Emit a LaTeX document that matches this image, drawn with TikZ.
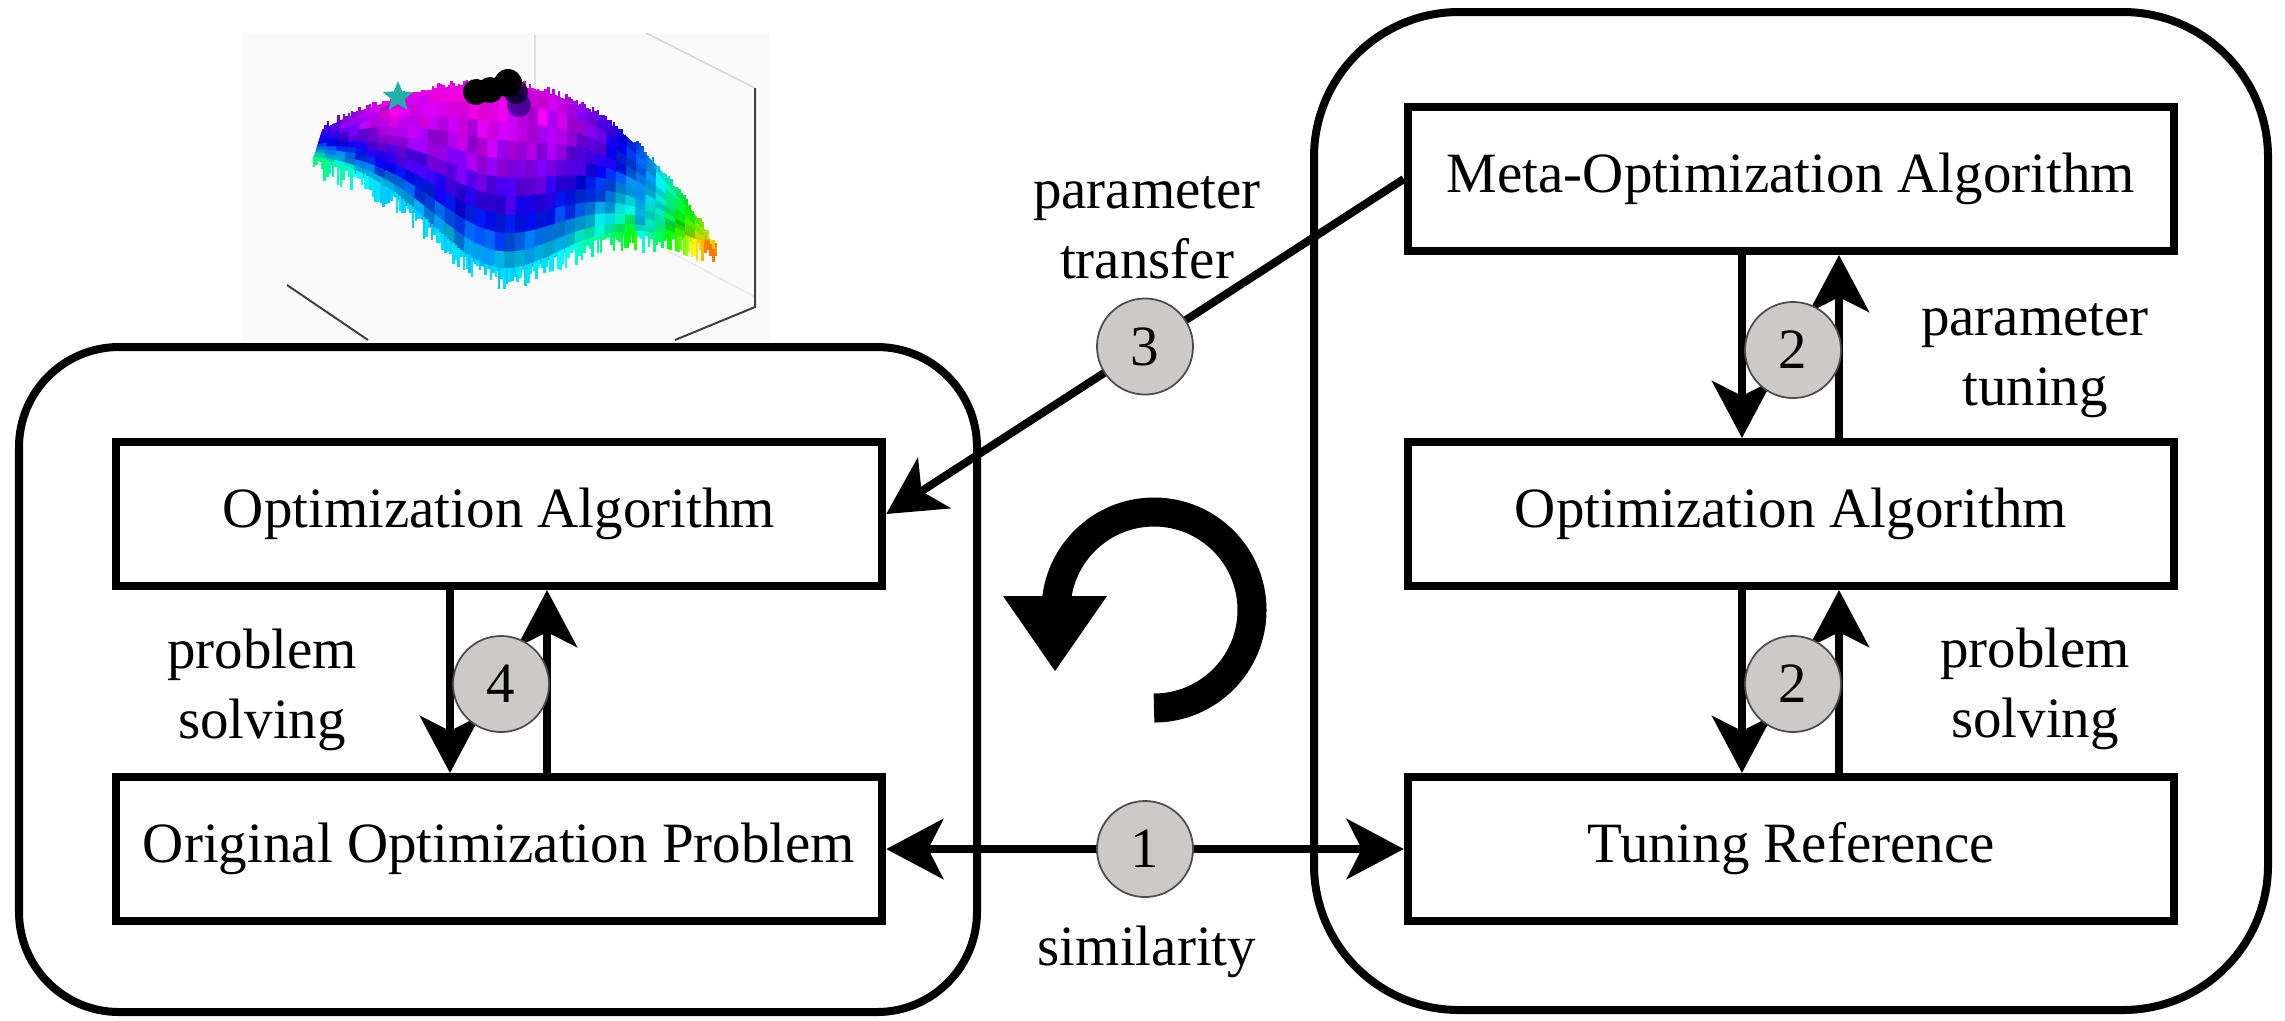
\documentclass[tikz,border=0pt]{standalone}
\usepackage{fontspec}
\setmainfont{Liberation Serif}
\usetikzlibrary{arrows.meta}
\definecolor{numgray}{RGB}{206,201,201}
\definecolor{plotbg}{RGB}{250,250,250}
\definecolor{stargreen}{RGB}{32,178,170}
\tikzset{
  box/.style={draw, line width=0.08cm, minimum width=7.66cm, minimum height=1.44cm, inner sep=0pt},
  numcirc/.style={circle, draw=black!70, line width=0.5pt, fill=numgray, minimum size=0.96cm, inner sep=0pt},
  conn/.style={line width=0.08cm, -{Stealth[length=0.57cm, width=0.6cm, inset=0.15cm]}},
  lbl/.style={align=center},
  declare function={
    xb(\pu)=323+393*\pu;
    yb(\pu)=130-200*\pu+200*\pu*\pu+120*\pu*\pu*\pu*\pu;
    xf(\pu)=314+402*\pu;
    yf(\pu)=158+72*exp(-((\pu-0.45)/0.22)*((\pu-0.45)/0.22))+88*\pu;
    sx(\pu,\pv)=xb(\pu)*(1-\pv)+xf(\pu)*\pv;
    sy(\pu,\pv)=yb(\pu)*(1-\pv)+yf(\pu)*\pv;
    shue(\pu,\pv)=300-300*max(0,0.15-\pu)-110*\pv*\pv*(1-0.6*(\pu>0.8))-(\pu>0.4)*255*((\pu-0.4)/0.6)*((\pu-0.4)/0.6)*((\pu-0.4)/0.6);
  }
}
\begin{document}
\begin{tikzpicture}[x=0.01cm, y=-0.01cm, font=\fontsize{16.2}{19.9}\selectfont]
\useasboundingbox (0,0) rectangle (2285,1020);
\pgfmathsetseed{7}

% landscape picture
\fill[plotbg] (242,33) rectangle (770,340);
\draw[black!12, line width=0.5pt] (535,35) -- (535,227);
\draw[black!15, line width=0.5pt] (646,33) -- (755,88);
\draw[black!8, line width=0.5pt] (616,223) -- (755,297);
\foreach \i in {0,...,39}{
  \foreach \j in {0,...,9}{
    \pgfmathsetmacro\ua{\i/40}
    \pgfmathsetmacro\ub{(\i+1)/40}
    \pgfmathsetmacro\va{\j/10}
    \pgfmathsetmacro\vb{(\j+1)/10}
    \pgfmathtruncatemacro\hh{max(28,min(359,shue((\ua+\ub)/2,(\va+\vb)/2)+16*rnd-8))}
    \pgfmathsetmacro\bb{0.78+0.22*rnd}
    \definecolor{surfc}{Hsb}{\hh,1,\bb}
    \filldraw[surfc, line width=0.5pt] ({sx(\ua,\va)},{sy(\ua,\va)}) -- ({sx(\ub,\va)},{sy(\ub,\va)})
      -- ({sx(\ub,\vb)},{sy(\ub,\vb)}) -- ({sx(\ua,\vb)},{sy(\ua,\vb)}) -- cycle;
  }
}
\foreach \k in {0,...,150}{
  \pgfmathsetmacro\uk{\k/150}
  \pgfmathtruncatemacro\hh{max(28,min(359,shue(\uk,1)+10*rnd-5))}
  \definecolor{surfc}{Hsb}{\hh,1,1}
  \pgfmathsetmacro\spk{3+20*rnd}
  \draw[surfc, line width=0.025cm] ({xf(\uk)},{yf(\uk)-3}) -- ++(0,\spk);
  \pgfmathtruncatemacro\hh{max(28,min(359,shue(\uk,0)))}
  \definecolor{surfc}{Hsb}{\hh,1,0.9}
  \pgfmathsetmacro\spk{2+8*rnd}
  \draw[surfc, line width=0.025cm] ({xb(\uk)},{yb(\uk)+3}) -- ++(0,-\spk);
}
\draw[black!75, line width=0.02cm] (755,88) -- (755,307) -- (675,340);
\draw[black!75, line width=0.02cm] (287,285) -- (368,340);
\fill[stargreen] plot[samples at={0,...,9}, variable=\k]
  ({398+(mod(\k,2)==0?16:7)*cos(-90+36*\k)}, {97+(mod(\k,2)==0?16:7)*sin(-90+36*\k)}) -- cycle;
\fill[black!60!blue, opacity=0.6] (519,105) circle (12);
\fill[black!85!blue, opacity=0.8] (516,92) circle (12);
\fill[black] (476,92) circle (13);
\fill[black] (490,90) circle (13);
\fill[black] (508,83) circle (14);

% the two sides
\draw[line width=0.08cm, rounded corners=1cm] (19,347) rectangle (977,1012);
\draw[line width=0.08cm, rounded corners=1.45cm] (1314,12) rectangle (2268,1010);

\node[box] (optL) at (499,514) {Optimization Algorithm};
\node[box] (probL) at (499,849) {Original Optimization Problem};
\node[box] (meta) at (1791,179) {Meta-Optimization Algorithm};
\node[box] (optR) at (1791,514) {Optimization Algorithm};
\node[box] (tune) at (1791,849) {Tuning Reference};

\draw[conn] ([xshift=-0.49cm]optL.south) -- ([xshift=-0.49cm]probL.north);
\draw[conn] ([xshift=0.48cm]probL.north) -- ([xshift=0.48cm]optL.south);
\draw[conn] ([xshift=-0.49cm]meta.south) -- ([xshift=-0.49cm]optR.north);
\draw[conn] ([xshift=0.48cm]optR.north) -- ([xshift=0.48cm]meta.south);
\draw[conn] ([xshift=-0.49cm]optR.south) -- ([xshift=-0.49cm]tune.north);
\draw[conn] ([xshift=0.48cm]tune.north) -- ([xshift=0.48cm]optR.south);

\node[numcirc] (n4) at (501,684) {4};
\node[numcirc] (n2a) at (1793,350) {2};
\node[numcirc] (n2b) at (1793,684) {2};

\draw[conn] (meta.west) -- node[numcirc] (n3) {3} (optL.east);
\draw[conn, {Stealth[length=0.57cm, width=0.6cm, inset=0.15cm]}-{Stealth[length=0.57cm, width=0.6cm, inset=0.15cm]}]
  (probL.east) -- node[numcirc] (n1) {1} (tune.west);

\node[lbl] (trlbl) at (1147,228) {parameter\\transfer};
\node[lbl] (tulbl) at (2035,361) {parameter\\tuning};
\node[lbl] (psR) at (2035,689) {problem\\solving};
\node[lbl] (psL) at (262,690) {problem\\solving};
\node[anchor=base] (sim) at (1147,965) {similarity};

% loop arrow
\draw[line width=0.29cm] (1154,708) arc[start angle=90, end angle=-178, radius=98];
\fill (1003,596) -- (1107,596) -- (1055,671) -- cycle;
\end{tikzpicture}
\end{document}
